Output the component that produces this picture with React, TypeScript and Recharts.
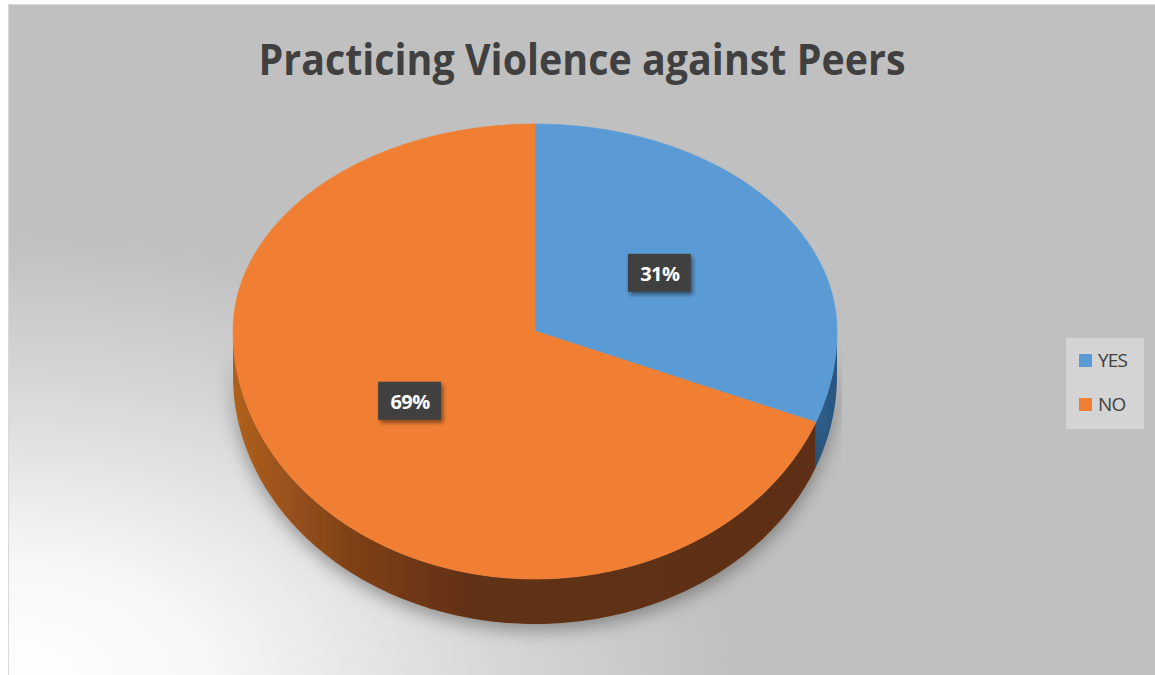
import { Cell, Legend, Pie, PieChart } from "recharts";

const categories = ["YES", "NO"];
const shares = [31, 69];

const TOP_COLORS = ["#5B9BD5", "#F07F33"];
const SIDE_FILLS = ["url(#sideBlue)", "url(#sideOrange)"];

const data = categories.map((name, i) => ({ name, value: shares[i] }));

// pie geometry (top face drawn as an ellipse, taller below the centre for a bit of perspective)
const CX = 535;
const CY = 331;
const RX = 302;
const UP = 207 / 302;
const DOWN = 248 / 302;
const DEPTH = 45;
const FONT = "'Open Sans', 'DejaVu Sans', sans-serif";

const pt = (cx: number, cy: number, r: number, deg: number, f = 1) => {
  const rad = (-deg * Math.PI) / 180;
  const s = Math.sin(rad);
  return [cx + Math.cos(rad) * r * f, cy + s * r * f * (s < 0 ? UP : DOWN)];
};

const arc = (cx: number, cy: number, r: number, a0: number, a1: number) => {
  const n = Math.max(2, Math.ceil(Math.abs(a1 - a0)));
  const out: string[] = [];
  for (let i = 0; i <= n; i++) {
    const [x, y] = pt(cx, cy, r, a0 + ((a1 - a0) * i) / n);
    out.push(`${x.toFixed(2)},${y.toFixed(2)}`);
  }
  return out;
};

function TopSlice(p: any) {
  const { cx, cy, outerRadius, startAngle, endAngle, fill } = p;
  const pts = arc(cx, cy, outerRadius, startAngle, endAngle);
  return <path d={`M${cx},${cy}L${pts.join("L")}Z`} fill={fill} stroke={fill} strokeWidth={0.6} />;
}

function SideSlice(p: any) {
  const { cx, cy, outerRadius, startAngle, endAngle, fill } = p;
  // only the front (lower) half of the rim is visible
  const a0 = Math.min(startAngle, 0);
  const a1 = Math.max(endAngle, -180);
  if (a0 <= a1) return <g />;
  const top = arc(cx, cy, outerRadius, a0, a1);
  const bottom = arc(cx, cy + DEPTH, outerRadius, a1, a0);
  return <path d={`M${top.join("L")}L${bottom.join("L")}Z`} fill={fill} stroke="none" filter="url(#pieShadow)" />;
}

function PctLabel(p: any) {
  const { cx, cy, outerRadius, midAngle, percent } = p;
  const [x, y] = pt(cx, cy, outerRadius, midAngle, 0.5);
  return (
    <g>
      <rect x={x - 32} y={y - 19} width={63} height={38} fill="#404040" filter="url(#boxShadow)" />
      <text
        x={x}
        y={y + 1}
        textAnchor="middle"
        dominantBaseline="central"
        fill="#ffffff"
        fontFamily={FONT}
        fontWeight={700}
        fontSize={20}
        letterSpacing={-0.5}
      >
        {`${Math.round(percent * 100)}%`}
      </text>
    </g>
  );
}

function LegendBox({ payload }: any) {
  const items = (payload || [])
    .filter((e: any) => e.type !== "none" && categories.includes(e.value))
    .filter((e: any, i: number, arr: any[]) => arr.findIndex((o) => o.value === e.value) === i)
    .sort((a: any, b: any) => categories.indexOf(a.value) - categories.indexOf(b.value));
  return (
    <div style={{ background: "#d4d4d4", width: 78, height: 91, boxSizing: "border-box", paddingLeft: 13 }}>
      {items.map((e: any) => (
        <div key={e.value} style={{ display: "flex", alignItems: "center", height: 44 }}>
          <span
            style={{
              width: 13,
              height: 13,
              background: TOP_COLORS[categories.indexOf(e.value)],
              marginRight: 6,
              flexShrink: 0,
            }}
          />
          <span style={{ fontFamily: FONT, fontSize: 19, color: "#404040", letterSpacing: -0.8 }}>{e.value}</span>
        </div>
      ))}
    </div>
  );
}

export default function App() {
  return (
    <div style={{ position: "absolute", left: 0, top: 0, width: 1155, height: 675, background: "#fff", overflow: "hidden" }}>
      <div
        style={{
          position: "absolute",
          left: 8,
          top: 4,
          width: 1160,
          height: 680,
          border: "1px solid #d9d9d9",
          background:
            "radial-gradient(ellipse 900px 560px at 0% 100%, #ffffff 0%, #f7f7f7 22%, #d6d6d6 55%, #c0c0c0 80%)",
        }}
      />
      <div style={{ position: "absolute", left: 0, top: 0 }}>
        <PieChart width={1155} height={675} margin={{ top: 0, right: 0, bottom: 0, left: 0 }}>
          <defs>
            <linearGradient id="sideOrange" gradientUnits="userSpaceOnUse" x1={CX - RX} y1={0} x2={CX + RX} y2={0}>
              <stop offset="0%" stopColor="#b0601f" />
              <stop offset="20%" stopColor="#7e4017" />
              <stop offset="40%" stopColor="#613012" />
              <stop offset="100%" stopColor="#5e2f12" />
            </linearGradient>
            <linearGradient id="sideBlue" x1="0" y1="0" x2="1" y2="0">
              <stop offset="0%" stopColor="#2f5f8c" />
              <stop offset="100%" stopColor="#2a557e" />
            </linearGradient>
            <filter id="pieShadow" x="-20%" y="-40%" width="140%" height="200%">
              <feDropShadow dx={0} dy={6} stdDeviation={9} floodColor="#000" floodOpacity={0.35} />
            </filter>
            <filter id="boxShadow" x="-30%" y="-30%" width="160%" height="170%">
              <feDropShadow dx={2} dy={3} stdDeviation={2} floodColor="#000" floodOpacity={0.45} />
            </filter>
          </defs>
          <text
            x={582}
            y={75}
            textAnchor="middle"
            fill="#404040"
            fontFamily={FONT}
            fontWeight={700}
            fontSize={43}
            textLength={647}
            lengthAdjust="spacingAndGlyphs"
          >
            Practicing Violence against Peers
          </text>
          <Pie
            data={data}
            dataKey="value"
            nameKey="name"
            cx={CX}
            cy={CY}
            outerRadius={RX}
            startAngle={90}
            endAngle={-270}
            legendType="none"
            shape={SideSlice}
            label={false}
            labelLine={false}
            isAnimationActive={false}
          >
            {data.map((d, i) => (
              <Cell key={d.name} fill={SIDE_FILLS[i]} />
            ))}
          </Pie>
          <Pie
            data={data}
            dataKey="value"
            nameKey="name"
            cx={CX}
            cy={CY}
            outerRadius={RX}
            startAngle={90}
            endAngle={-270}
            legendType="square"
            shape={TopSlice}
            label={PctLabel}
            labelLine={false}
            isAnimationActive={false}
          >
            {data.map((d, i) => (
              <Cell key={d.name} fill={TOP_COLORS[i]} />
            ))}
          </Pie>
          <Legend
            layout="vertical"
            align="right"
            verticalAlign="middle"
            content={LegendBox}
            wrapperStyle={{ position: "absolute", left: 1066, top: 338, right: "auto", width: 78, height: 91 }}
          />
        </PieChart>
      </div>
    </div>
  );
}
